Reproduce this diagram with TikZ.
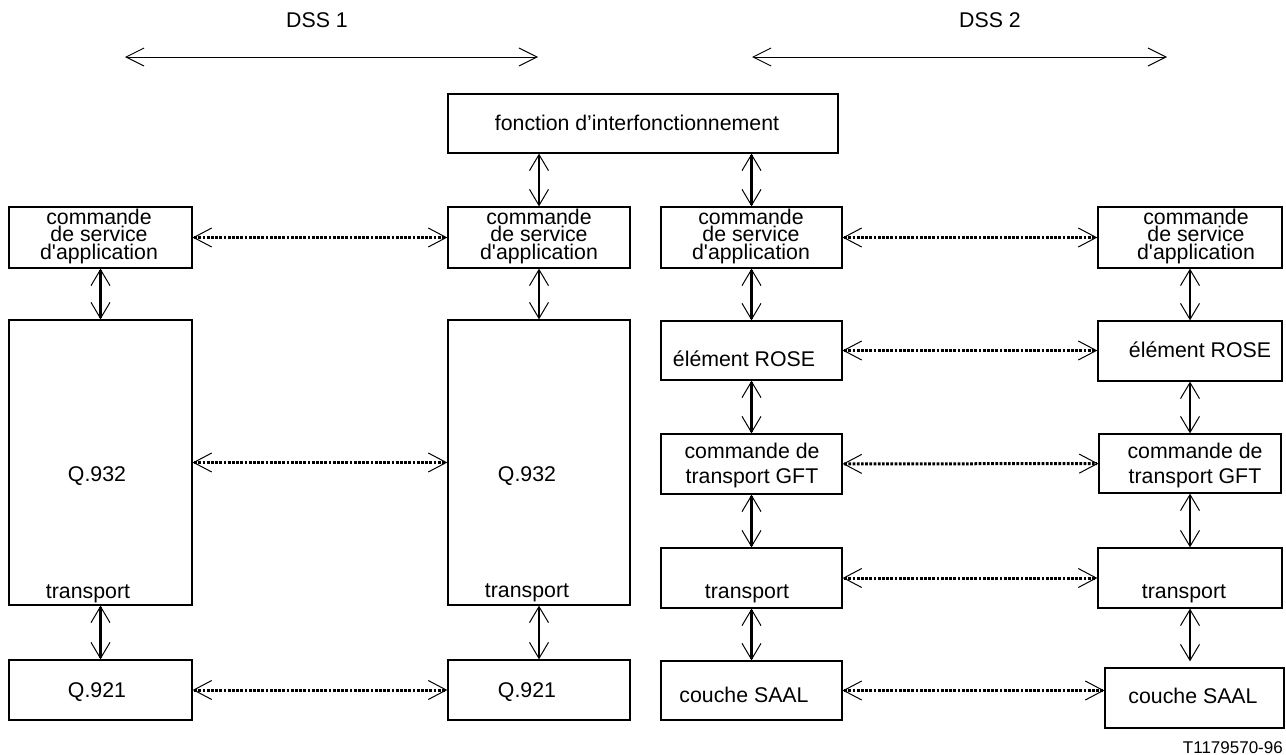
\documentclass[tikz,border=0pt]{standalone}
\usepackage{fontspec}
\setmainfont{Liberation Sans}
\usetikzlibrary{arrows.meta,fit}
\newcommand{\dapp}{d\textquotesingle application}
\begin{document}
\begin{tikzpicture}[x=1pt,y=-1pt,
  box/.style={draw, line width=1.3pt, inner sep=0pt},
  lbl/.style={font=\fontsize{21.3}{25}\selectfont, inner sep=0pt},
  stack/.style={font=\fontsize{21.3}{17.5}\selectfont, align=center, inner sep=0pt},
  link/.style={line width=2.8pt, >={Straight Barb[length=16pt,width=19pt,line width=1pt]}, <->},
  peer/.style={line width=3pt, dash pattern=on 2.7pt off 1.5pt,
    >={Straight Barb[length=18pt,width=19pt,line width=1pt]}, <->},
  span/.style={line width=1pt, >={Straight Barb[length=18pt,width=18pt,line width=1pt]}, <->}
]
\useasboundingbox (0,0) rectangle (1286,755);

% domain spans
\node[lbl, anchor=base] (dss1) at (317,27) {DSS 1};
\node[lbl, anchor=base] (dss2) at (990,27) {DSS 2};
\coordinate (d1l) at (125,57);
\coordinate (d1r) at (538,57);
\coordinate (d2l) at (752,57);
\coordinate (d2r) at (1167,57);
\draw[span] (d1l) -- (d1r);
\draw[span] (d2l) -- (d2r);

% interworking function
\node[box, fit={(448,94)(838,153)}] (fonc) {};
\node[lbl, anchor=base] (foncT) at (637,130) {fonction d’interfonctionnement};

% application service control row
\node[box, fit={(9,207)(192,268)}] (Aapp) {};
\node[box, fit={(448,207)(630,268)}] (Bapp) {};
\node[box, fit={(661,207)(842,268)}] (Capp) {};
\node[box, fit={(1098,207)(1282,268)}] (Dapp) {};
\node[stack] (AappT) at (99,236) {commande\\de service\\\dapp};
\node[stack] (BappT) at (539,236) {commande\\de service\\\dapp};
\node[stack] (CappT) at (751,236) {commande\\de service\\\dapp};
\node[stack] (DappT) at (1196,236) {commande\\de service\\\dapp};

% DSS 1 stack
\node[box, fit={(9,320)(192,605)}] (Aq932) {};
\node[box, fit={(448,320)(630,605)}] (Bq932) {};
\node[lbl, anchor=base] (Aq932T) at (97,481) {Q.932};
\node[lbl, anchor=base] (Bq932T) at (527,481) {Q.932};
\node[lbl, anchor=base] (AtrT) at (88,598) {transport};
\node[lbl, anchor=base] (BtrT) at (527,597) {transport};
\node[box, fit={(9,660)(192,720)}] (Aq921) {};
\node[box, fit={(448,660)(630,720)}] (Bq921) {};
\node[lbl, anchor=base] (Aq921T) at (97,697) {Q.921};
\node[lbl, anchor=base] (Bq921T) at (527,697) {Q.921};

% DSS 2 stack
\node[box, fit={(661,321)(842,380)}] (Crose) {};
\node[box, fit={(1098,321)(1282,381)}] (Drose) {};
\node[lbl, anchor=base] (CroseT) at (744,366) {élément ROSE};
\node[lbl, anchor=base] (DroseT) at (1200,357) {élément ROSE};
\node[box, fit={(661,434)(842,494)}] (Cgft) {};
\node[box, fit={(1099,434)(1281,493)}] (Dgft) {};
\node[lbl, align=center] (CgftT) at (752,465) {commande de\\transport GFT};
\node[lbl, align=center] (DgftT) at (1195,465) {commande de\\transport GFT};
\node[box, fit={(661,548)(842,608)}] (Ctr) {};
\node[box, fit={(1098,548)(1282,608)}] (Dtr) {};
\node[lbl, anchor=base] (CtrT) at (747,598) {transport};
\node[lbl, anchor=base] (DtrT) at (1184,598) {transport};
\node[box, fit={(661,661)(842,720)}] (Csaal) {};
\node[box, fit={(1105,668)(1284,728)}] (Dsaal) {};
\node[lbl, anchor=base] (CsaalT) at (744,702) {couche SAAL};
\node[lbl, anchor=base] (DsaalT) at (1193,703) {couche SAAL};

% figure reference
\node[font=\fontsize{17}{20}\selectfont, inner sep=0pt, anchor=base east] (ref) at (1283,753) {T1179570-96};

% vertical interfaces
\draw[link] (fonc.south -| Bapp.north) -- (Bapp.north);
\draw[link] (fonc.south -| Capp.north) -- (Capp.north);
\draw[link] (Aapp) -- (Aq932);
\draw[link] (Bapp) -- (Bq932);
\draw[link] (Aq932) -- (Aq921);
\draw[link] (Bq932) -- (Bq921);
\draw[link] (Capp) -- (Crose);
\draw[link] (Crose) -- (Cgft);
\draw[link] (Cgft) -- (Ctr);
\draw[link] (Ctr) -- (Csaal);
\draw[link] (Dapp) -- (Drose);
\draw[link] (Drose) -- (Dgft);
\draw[link] (Dgft) -- (Dtr);
\draw[link, shorten >=6pt] (Dtr.south) -- (Dtr.south |- Dsaal.north);

% peer-to-peer relations
\draw[peer] (Aapp) -- (Bapp);
\draw[peer] (Aq932) -- (Bq932);
\draw[peer] (Aq921) -- (Bq921);
\draw[peer] (Capp) -- (Dapp);
\draw[peer] (Crose.east) -- (Crose.east -| Drose.west);
\draw[peer] (Cgft) -- (Dgft);
\draw[peer] (Ctr) -- (Dtr);
\draw[peer] (Csaal.east) -- (Csaal.east -| Dsaal.west);
\end{tikzpicture}
\end{document}
